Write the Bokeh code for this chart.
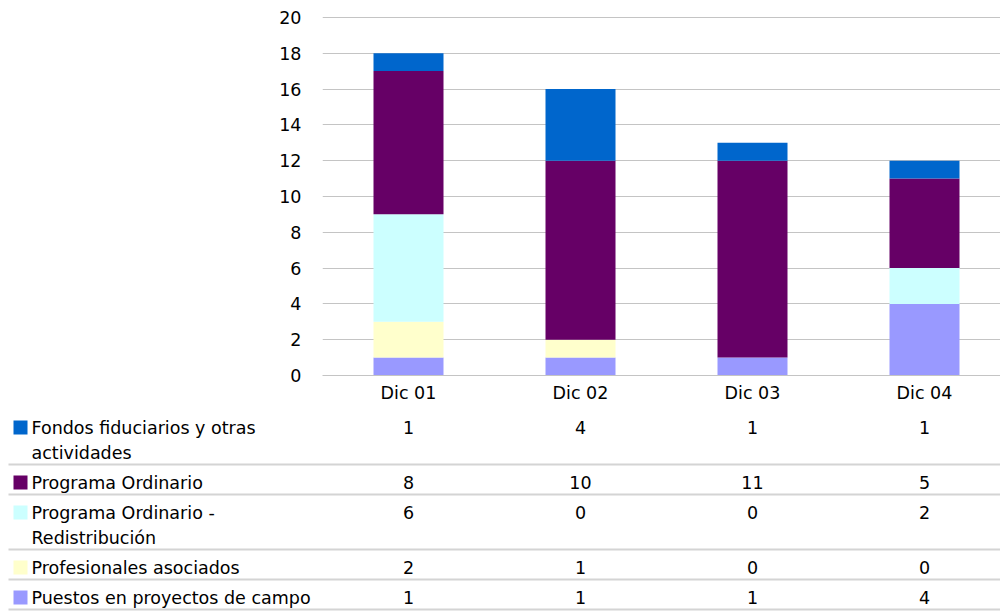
from bokeh.plotting import figure
from bokeh.models import Range1d, SingleIntervalTicker, FixedTicker, ColumnDataSource
from bokeh.core.properties import value
from bokeh.embed import file_html
from bokeh.resources import INLINE

# ---------------- data ----------------
categories = ["Dic 01", "Dic 02", "Dic 03", "Dic 04"]
series_labels = [
    "Fondos fiduciarios y otras\nactividades",
    "Programa Ordinario",
    "Programa Ordinario -\nRedistribución",
    "Profesionales asociados",
    "Puestos en proyectos de campo",
]
fondos = [1, 4, 1, 1]
ordinario = [8, 10, 11, 5]
redistribucion = [6, 0, 0, 2]
asociados = [2, 1, 0, 0]
campo = [1, 1, 1, 4]
series_colors = ["#0066CC", "#660066", "#CCFFFF", "#FFFFCC", "#9999FF"]

# ---------------- layout constants ----------------
FONT = "DejaVu Sans"
FS = "17.5px"
W = 1000
TOP_H = 405
TAB_H = 206
LEFT = 322            # canvas px left of plot frame
FRAME_TOP = 16
FRAME_H = 360
PX_PER_CAT = 172      # px per category
BAR_W_PX = 70

xs = list(range(1, len(categories) + 1))
x_start = 0.5
x_end = x_start + (W - LEFT) / PX_PER_CAT

# ---------------- stacked bar chart ----------------
top = figure(width=W, height=TOP_H, x_range=Range1d(x_start, x_end), y_range=Range1d(0, 20.05),
             output_backend="svg", toolbar_location=None,
             min_border_left=LEFT, min_border_right=0, min_border_top=FRAME_TOP,
             min_border_bottom=TOP_H - FRAME_TOP - FRAME_H)
top.outline_line_color = None

series_values = [fondos, ordinario, redistribucion, asociados, campo]
keys = ["fondos", "ordinario", "redistribucion", "asociados", "campo"]
data = {"x": xs}
for k, v in zip(keys, series_values):
    data[k] = v
src = ColumnDataSource(data)
top.vbar_stack(keys[::-1], x="x", width=BAR_W_PX / PX_PER_CAT, color=series_colors[::-1],
               line_width=0, source=src)

top.xgrid.grid_line_color = None
top.ygrid.grid_line_color = "#c4c4c4"
top.ygrid.grid_line_width = 1
top.yaxis.ticker = SingleIntervalTicker(interval=2)
top.yaxis.axis_line_color = None
top.yaxis.major_tick_line_color = None
top.yaxis.minor_tick_line_color = None
top.yaxis.major_tick_out = 0
top.yaxis.major_label_standoff = 17
top.yaxis.major_label_text_font = FONT
top.yaxis.major_label_text_font_size = FS
top.yaxis.major_label_text_color = "#000000"

top.xaxis.ticker = FixedTicker(ticks=xs)
top.xaxis.major_label_overrides = {x: c for x, c in zip(xs, categories)}
top.xaxis.axis_line_color = "#c4c4c4"
top.xaxis.major_tick_line_color = None
top.xaxis.minor_tick_line_color = None
top.xaxis.major_tick_out = 0
top.xaxis.major_label_standoff = 7
top.xaxis.major_label_text_font = FONT
top.xaxis.major_label_text_font_size = FS
top.xaxis.major_label_text_color = "#000000"

# ---------------- data table ----------------
tx_start = 1 - (LEFT + PX_PER_CAT / 2) / PX_PER_CAT
tx_end = tx_start + W / PX_PER_CAT
tab = figure(width=W, height=TAB_H, x_range=Range1d(tx_start, tx_end), y_range=Range1d(TAB_H, 0),
             output_backend="svg", toolbar_location=None,
             min_border_left=0, min_border_right=0, min_border_top=0, min_border_bottom=0)
tab.outline_line_color = None
tab.xaxis.visible = False
tab.yaxis.visible = False
tab.xgrid.grid_line_color = None
tab.ygrid.grid_line_color = None

sq_x = tx_start + 20 / PX_PER_CAT
lab_x = tx_start + 31 / PX_PER_CAT

y_cursor = 409 - TOP_H
lbl_x, lbl_y, lbl_t = [], [], []
val_x, val_y, val_t = [], [], []
sq_y, sq_c = [], []
line_y = []
for label, vals, col in zip(series_labels, series_values, series_colors):
    lines = label.split("\n")
    first = y_cursor + 18
    for k, ln in enumerate(lines):
        lbl_x.append(lab_x)
        lbl_y.append(first + 25 * k)
        lbl_t.append(ln)
    sq_y.append(first)
    sq_c.append(col)
    for x, v in zip(xs, vals):
        val_x.append(x)
        val_y.append(first)
        val_t.append(str(v))
    y_cursor = y_cursor + 30 + 25 * (len(lines) - 1)
    line_y.append(y_cursor)

tab.segment(x0=[tx_start + 8 / PX_PER_CAT] * len(line_y), x1=[tx_end] * len(line_y),
            y0=line_y, y1=line_y, line_color="#d4d4d4", line_width=2)
tab.rect(x=[sq_x] * len(sq_y), y=sq_y, width=14, height=14, width_units="screen",
         height_units="screen", fill_color=sq_c, line_color=None)
tab.text(x=lbl_x, y=lbl_y, text=lbl_t, text_font=value(FONT), text_font_size=FS,
         text_align="left", text_baseline="middle", text_color="#000000")
tab.text(x=val_x, y=val_y, text=val_t, text_font=value(FONT), text_font_size=FS,
         text_align="center", text_baseline="middle", text_color="#000000")

open("out.html", "w").write(file_html([top, tab], INLINE))
